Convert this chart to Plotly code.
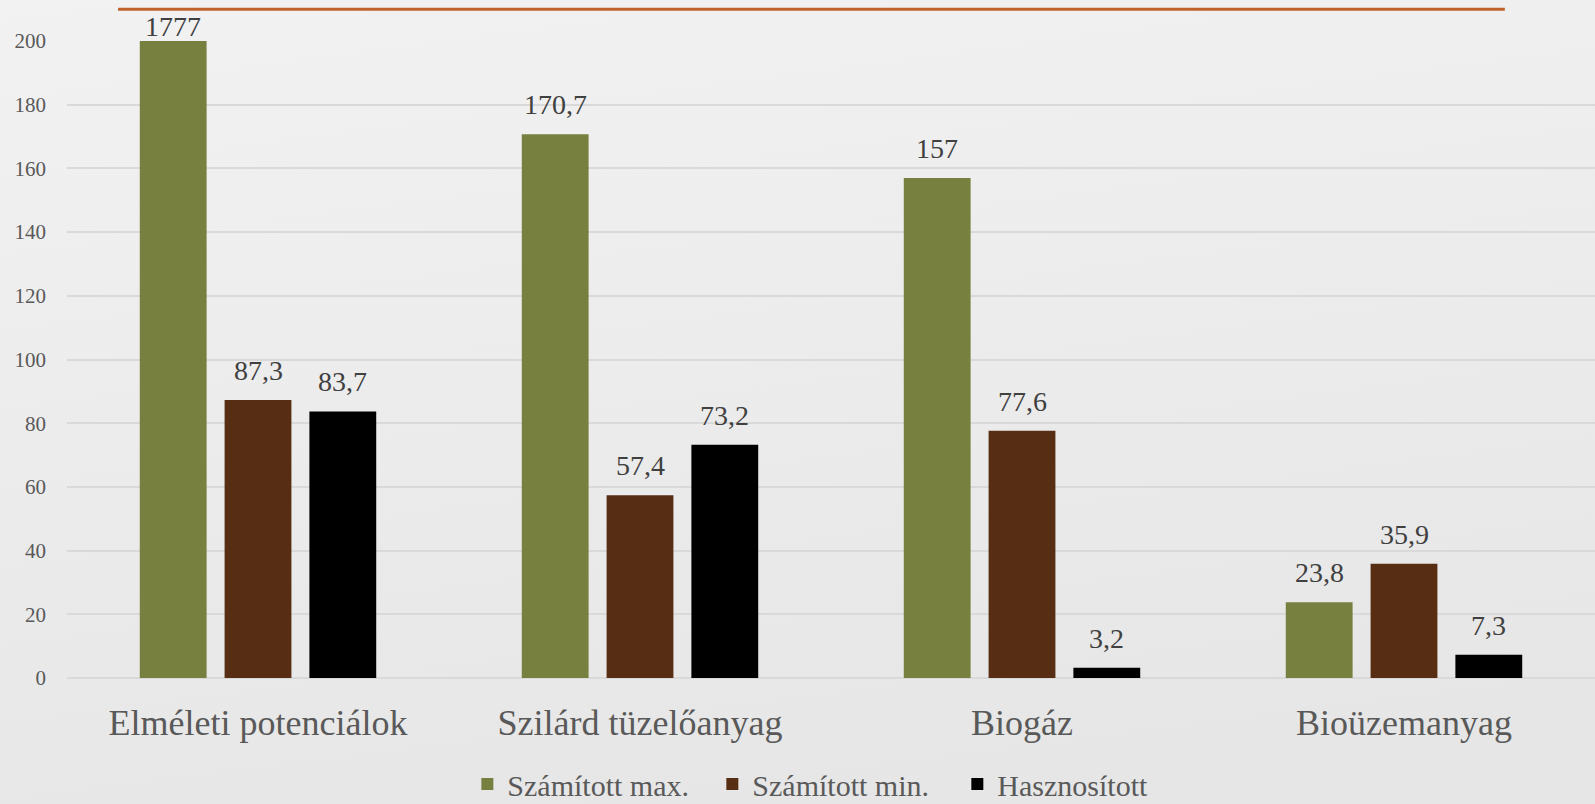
import base64
import plotly.graph_objects as go

categories = ["Elméleti potenciálok", "Szilárd tüzelőanyag", "Biogáz", "Bioüzemanyag"]
series_names = ["Számított max.", "Számított min.", "Hasznosított"]
szamitott_max = [1777, 170.7, 157, 23.8]
szamitott_min = [87.3, 57.4, 77.6, 35.9]
hasznositott = [83.7, 73.2, 3.2, 7.3]
y_ticks = [0, 20, 40, 60, 80, 100, 120, 140, 160, 180, 200]
Y_MAX = 200

colors = ["#77803E", "#572E14", "#000000"]
FONT = "Liberation Serif"
BARGAP = 0.334
BARGROUPGAP = 0.212

def fmt(v):
    return f"{v:g}".replace(".", ",")

all_series = [szamitott_max, szamitott_min, hasznositott]

fig = go.Figure()
for name, vals, col in zip(series_names, all_series, colors):
    fig.add_trace(go.Bar(
        name=name,
        x=categories,
        y=[min(v, Y_MAX) for v in vals],
        marker=dict(color=col, line=dict(width=0)),
    ))

# value labels, placed above each bar via the axis scales
n = len(all_series)
slot = (1 - BARGAP) / n
annotations = []
for i, vals in enumerate(all_series):
    for j, v in enumerate(vals):
        annotations.append(dict(
            x=j + (i - (n - 1) / 2) * slot, y=min(v, Y_MAX),
            xref="x", yref="y", text=fmt(v), showarrow=False,
            xanchor="center", yanchor="bottom",
            yshift=12 if v <= Y_MAX else -3,
            font=dict(family=FONT, size=28, color="#404040"),
        ))

svg = ('<svg xmlns="http://www.w3.org/2000/svg" width="100" height="100" preserveAspectRatio="none">'
       '<defs><linearGradient id="g" x1="0" y1="0" x2="0.25" y2="1">'
       '<stop offset="0" stop-color="#F3F3F3"/><stop offset="1" stop-color="#E6E6E6"/>'
       '</linearGradient></defs><rect width="100" height="100" fill="url(#g)"/></svg>')
bg_uri = "data:image/svg+xml;base64," + base64.b64encode(svg.encode()).decode()

fig.update_layout(
    width=1595, height=804,
    margin=dict(l=67, r=0, t=41, b=126, autoexpand=False),
    paper_bgcolor="#EDEDED",
    plot_bgcolor="rgba(0,0,0,0)",
    barmode="group",
    bargap=BARGAP,
    bargroupgap=BARGROUPGAP,
    font=dict(family=FONT, color="#595959"),
    showlegend=True,
    legend=dict(
        orientation="h", x=0.262, xanchor="left", y=-0.1664, yanchor="middle",
        font=dict(family=FONT, size=30, color="#595959"),
        bgcolor="rgba(0,0,0,0)", itemwidth=30,
        entrywidth=200, entrywidthmode="pixels",
    ),
    xaxis=dict(
        showgrid=False, showline=False, zeroline=False, ticks="",
        tickfont=dict(family=FONT, size=36, color="#595959"),
        ticklabelstandoff=20, automargin=False,
    ),
    yaxis=dict(
        range=[0, Y_MAX], tickvals=y_ticks,
        showgrid=True, gridcolor="#D9D9D9", gridwidth=1.5,
        zeroline=True, zerolinecolor="#D9D9D9", zerolinewidth=1.5,
        showline=False, ticks="",
        tickfont=dict(family=FONT, size=21, color="#595959"),
        ticklabelstandoff=20, automargin=False,
    ),
    annotations=annotations,
    images=[dict(
        source=bg_uri, xref="paper", yref="paper",
        x=-0.1, y=1.2, sizex=1.2, sizey=1.5,
        xanchor="left", yanchor="top", sizing="stretch", layer="below",
    )],
    shapes=[dict(
        type="line", xref="paper", yref="paper",
        x0=0.0334, x1=0.941, y0=1.050, y1=1.050,
        line=dict(color="#C0622B", width=3),
    )],
)

fig.write_html("out.html", config={"displayModeBar": False},
               post_script="document.body.style.margin='0';")
